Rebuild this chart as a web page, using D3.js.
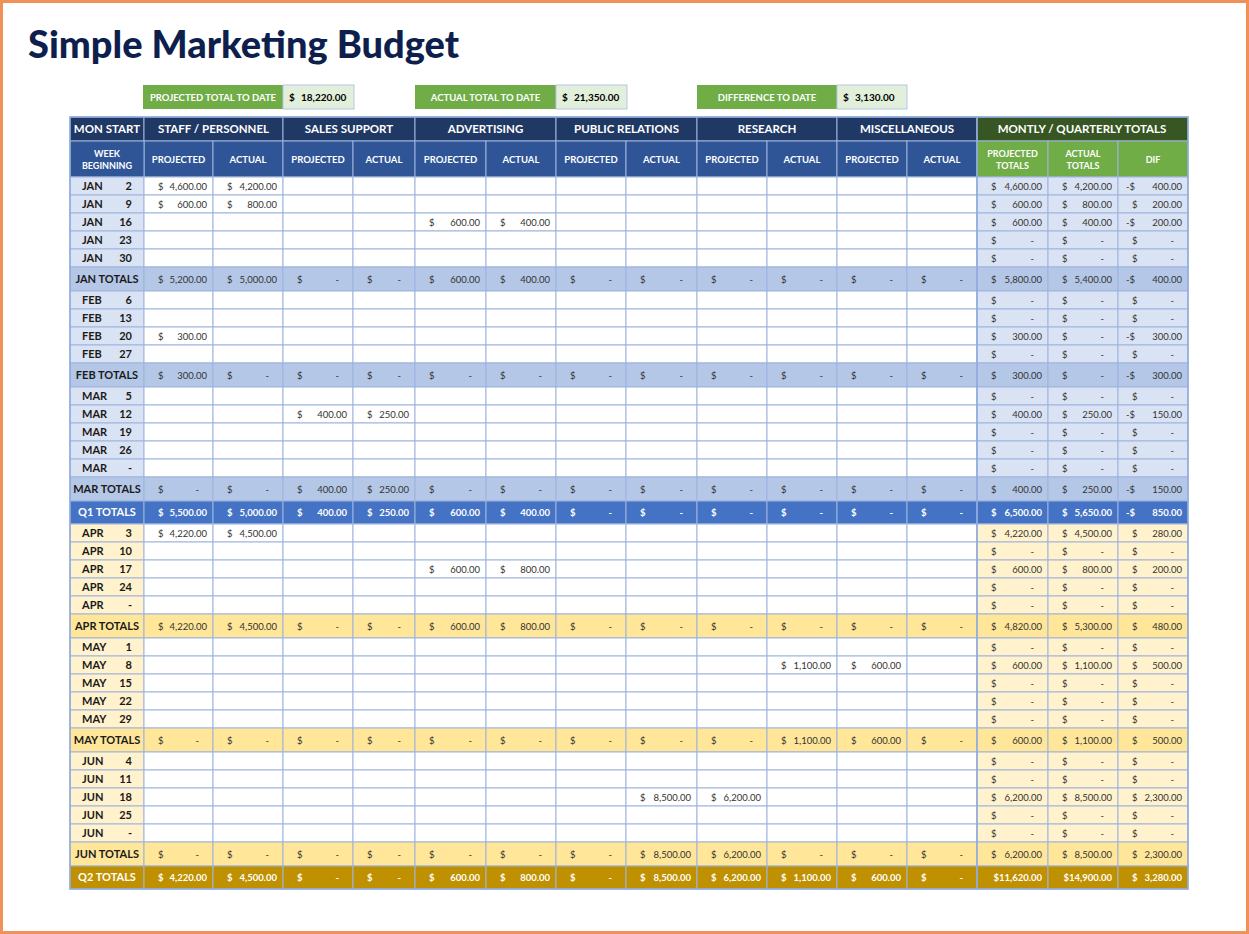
<!DOCTYPE html>
<html><head><meta charset="utf-8">
<script src="https://cdn.jsdelivr.net/npm/d3@7"></script>
<style>body{margin:0;background:#fff}svg{display:block}</style>
</head><body>
<svg id="chart" width="1249" height="934"></svg>
<script>
// categories
const groups = ["STAFF / PERSONNEL","SALES SUPPORT","ADVERTISING","PUBLIC RELATIONS","RESEARCH","MISCELLANEOUS"];
const summary = [["PROJECTED TOTAL TO DATE","18,220.00"],["ACTUAL TOTAL TO DATE","21,350.00"],["DIFFERENCE TO DATE","3,130.00"]];

// row labels + row kind (w = week, m = month total, q = quarter total); quarter 1 or 2
const rowLabels = [
  ["JAN","2"],["JAN","9"],["JAN","16"],["JAN","23"],["JAN","30"],["JAN TOTALS"],
  ["FEB","6"],["FEB","13"],["FEB","20"],["FEB","27"],["FEB TOTALS"],
  ["MAR","5"],["MAR","12"],["MAR","19"],["MAR","26"],["MAR","-"],["MAR TOTALS"],["Q1 TOTALS"],
  ["APR","3"],["APR","10"],["APR","17"],["APR","24"],["APR","-"],["APR TOTALS"],
  ["MAY","1"],["MAY","8"],["MAY","15"],["MAY","22"],["MAY","29"],["MAY TOTALS"],
  ["JUN","4"],["JUN","11"],["JUN","18"],["JUN","25"],["JUN","-"],["JUN TOTALS"],["Q2 TOTALS"]
];
const rowKinds = "wwwwwmwwwwmwwwwwmqwwwwwmwwwwwmwwwwwmq".split("");

// 12 category values per row (projected/actual pairs); null = empty cell
const _ = null, Z = [0,0,0,0,0,0,0,0,0,0,0,0], E = [_,_,_,_,_,_,_,_,_,_,_,_];
const cellValues = [
  [4600,4200,_,_,_,_,_,_,_,_,_,_],
  [600,800,_,_,_,_,_,_,_,_,_,_],
  [_,_,_,_,600,400,_,_,_,_,_,_],
  E, E,
  [5200,5000,0,0,600,400,0,0,0,0,0,0],
  E, E,
  [300,_,_,_,_,_,_,_,_,_,_,_],
  E,
  [300,0,0,0,0,0,0,0,0,0,0,0],
  E,
  [_,_,400,250,_,_,_,_,_,_,_,_],
  E, E, E,
  [0,0,400,250,0,0,0,0,0,0,0,0],
  [5500,5000,400,250,600,400,0,0,0,0,0,0],
  [4220,4500,_,_,_,_,_,_,_,_,_,_],
  E,
  [_,_,_,_,600,800,_,_,_,_,_,_],
  E, E,
  [4220,4500,0,0,600,800,0,0,0,0,0,0],
  E,
  [_,_,_,_,_,_,_,_,_,1100,600,_],
  E, E, E,
  [0,0,0,0,0,0,0,0,0,1100,600,0],
  E, E,
  [_,_,_,_,_,_,_,8500,6200,_,_,_],
  E, E,
  [0,0,0,0,0,0,0,8500,6200,0,0,0],
  [4220,4500,0,0,600,800,0,8500,6200,1100,600,0]
];
// monthly / quarterly totals: projected, actual, dif
const projTotals = [4600,600,600,0,0,5800, 0,0,300,0,300, 0,400,0,0,0,400,6500,
  4220,0,600,0,0,4820, 0,600,0,0,0,600, 0,0,6200,0,0,6200,11620];
const actTotals = [4200,800,400,0,0,5400, 0,0,0,0,0, 0,250,0,0,0,250,5650,
  4500,0,800,0,0,5300, 0,1100,0,0,0,1100, 0,0,8500,0,0,8500,14900];
const difTotals = [-400,200,-200,0,0,-400, 0,0,-300,0,-300, 0,-150,0,0,0,-150,-850,
  280,0,200,0,0,480, 0,500,0,0,0,500, 0,0,2300,0,0,2300,3280];

const svg = d3.select("#chart");
const FONT = "Lato, 'Open Sans', sans-serif";
svg.append("rect").attr("x",1.5).attr("y",1.5).attr("width",1246).attr("height",931)
  .attr("fill","#fff").attr("stroke","#f0915a").attr("stroke-width",3);
svg.append("text").attr("x",28).attr("y",58).attr("font-family",FONT).attr("font-weight",900)
  .attr("font-size",38).attr("fill","#0e1f4d").text("Simple Marketing Budget");

// columns
const colEdges = [70,144,213,283,353,415,486,556,626,697,767,837,907,977,1048,1118,1188];
const fmt = d3.format(",.2f");

// summary boxes
const sumX = [[143,283,354],[415,556,627],[697,837,907]];
summary.forEach((s,i) => {
  const [a,b,c] = sumX[i];
  svg.append("rect").attr("x",a).attr("y",85).attr("width",b-a).attr("height",24).attr("fill","#70ad47");
  svg.append("rect").attr("x",b).attr("y",85).attr("width",c-b).attr("height",24).attr("fill","#e2efda").attr("stroke","#b4c7e7");
  svg.append("text").attr("x",(a+b)/2).attr("y",101).attr("text-anchor","middle").attr("font-family",FONT)
    .attr("font-weight",700).attr("font-size",9.5).attr("fill","#fff").text(s[0]);
  svg.append("text").attr("x",b+6).attr("y",101).attr("font-family",FONT).attr("font-weight",700).attr("font-size",10).text("$");
  svg.append("text").attr("x",b+18).attr("y",101).attr("font-family",FONT).attr("font-weight",700).attr("font-size",10).text(s[1]);
});

// row geometry
const rowH = {w:18, m:24, q:23};
let y = 177;
const rows = rowLabels.map((lab,i) => {
  const k = rowKinds[i], r = {lab, k, y0:y, h:rowH[k], q: i < 18 ? 1 : 2, i};
  y += r.h; return r;
});
const tableBottom = y;

const pal = {
  1:{label:"#dae3f3", m:"#b4c7e7", q:"#4472c4", tot:"#dae3f3"},
  2:{label:"#fff2cc", m:"#ffe699", q:"#bf9000", tot:"#fff2cc"}
};

// headers
function cell(x0,x1,y0,h,fill){
  svg.append("rect").attr("x",x0).attr("y",y0).attr("width",x1-x0).attr("height",h)
    .attr("fill",fill).attr("stroke","#9db4dd").attr("stroke-width",1);
}
function txt(x,yy,s,o={}){
  return svg.append("text").attr("x",x).attr("y",yy).attr("font-family",FONT)
    .attr("font-size",o.size||10).attr("font-weight",o.w||400).attr("fill",o.fill||"#333")
    .attr("text-anchor",o.anchor||"start").text(s);
}
cell(70,144,117,24,"#1f3864");
txt(107,133,"MON START",{size:11.5,w:700,fill:"#fff",anchor:"middle"});
groups.forEach((g,i) => {
  const x0 = colEdges[1+2*i], x1 = colEdges[3+2*i];
  cell(x0,x1,117,24,"#1f3864");
  txt((x0+x1)/2,133,g,{size:11.5,w:700,fill:"#fff",anchor:"middle"});
  ["PROJECTED","ACTUAL"].forEach((s,j) => {
    const a = colEdges[1+2*i+j], b = colEdges[2+2*i+j];
    cell(a,b,141,36,"#2f5597");
    txt((a+b)/2,163,s,{size:9.5,w:700,fill:"#fff",anchor:"middle"});
  });
});
cell(977,1188,117,24,"#375623");
txt(1082,133,"MONTLY / QUARTERLY TOTALS",{size:11.5,w:700,fill:"#fff",anchor:"middle"});
cell(70,144,141,36,"#2f5597");
txt(107,157,"WEEK",{size:9,w:700,fill:"#fff",anchor:"middle"});
txt(107,169,"BEGINNING",{size:9,w:700,fill:"#fff",anchor:"middle"});
[["PROJECTED","TOTALS"],["ACTUAL","TOTALS"],["DIF"]].forEach((s,j) => {
  const a = colEdges[13+j], b = colEdges[14+j];
  cell(a,b,141,36,"#70ad47");
  if (s.length===2){
    txt((a+b)/2,157,s[0],{size:9,w:700,fill:"#fff",anchor:"middle"});
    txt((a+b)/2,169,s[1],{size:9,w:700,fill:"#fff",anchor:"middle"});
  } else txt((a+b)/2,163,s[0],{size:9,w:700,fill:"#fff",anchor:"middle"});
});

// money cell
function money(x0,x1,yc,v,o){
  if (v === null) return;
  const neg = v < 0, big = Math.abs(v) >= 10000;
  if (big){ txt(x1-6,yc,"$"+fmt(Math.abs(v)),{...o,anchor:"end"}); return; }
  txt(x0+(neg?8:14),yc,(neg?"-$":"$"),o);
  txt(x1-(v===0?14:6),yc,v===0?"-":fmt(Math.abs(v)),{...o,anchor:"end"});
}

rows.forEach(r => {
  const p = pal[r.q], yc = r.y0 + r.h/2 + 3.5;
  const bodyFill = r.k==="w" ? "#fff" : r.k==="m" ? p.m : p.q;
  const labFill = r.k==="w" ? p.label : bodyFill;
  const tColor = r.k==="q" ? "#fff" : "#333";
  cell(70,144,r.y0,r.h,labFill);
  if (r.lab.length===2){
    txt(82,yc,r.lab[0],{size:11,w:700,fill:"#1a1a1a"});
    txt(132,yc,r.lab[1],{size:11,w:700,fill:"#1a1a1a",anchor:"end"});
  } else txt(107,yc,r.lab[0],{size:11,w:700,fill:r.k==="q"?"#fff":"#1a1a1a",anchor:"middle"});
  const o = {size:9.5,w:r.k==="q"?700:400,fill:tColor};
  cellValues[r.i].forEach((v,j) => {
    const a = colEdges[1+j], b = colEdges[2+j];
    cell(a,b,r.y0,r.h,bodyFill);
    money(a,b,yc,v,o);
  });
  [projTotals,actTotals,difTotals].forEach((arr,j) => {
    const a = colEdges[13+j], b = colEdges[14+j];
    cell(a,b,r.y0,r.h,r.k==="w" ? p.tot : bodyFill);
    money(a,b,yc,arr[r.i],o);
  });
});
// outer border
svg.append("rect").attr("x",70).attr("y",117).attr("width",1118).attr("height",tableBottom-117)
  .attr("fill","none").attr("stroke","#8faadc").attr("stroke-width",1.5);
svg.append("line").attr("x1",977).attr("x2",977).attr("y1",117).attr("y2",tableBottom).attr("stroke","#8faadc").attr("stroke-width",1.5);
</script>
</body></html>
